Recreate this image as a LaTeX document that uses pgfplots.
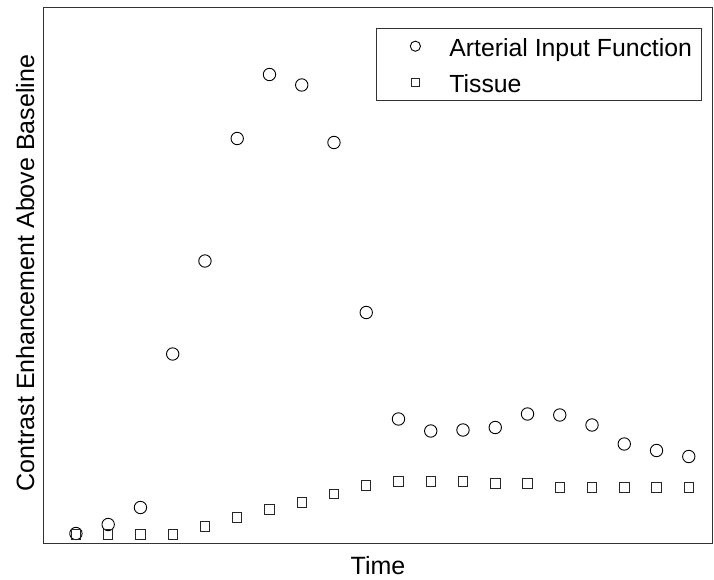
\documentclass[border=0pt]{standalone}
\usepackage{pgfplots}
\pgfplotsset{compat=1.18}
\usepackage{fontspec}
\setmainfont{Liberation Sans}
\begin{document}
\begin{tikzpicture}[x=1pt,y=1pt]
\begin{axis}[
  name=ax,
  at={(0,0)}, anchor=south west,
  scale only axis,
  width=668pt, height=535.5pt,
  xmin=-0.99, xmax=19.72,
  ymin=0, ymax=535.5,
  xtick=\empty, ytick=\empty,
  axis line style={line width=1pt, color=black!80},
  xlabel={Time},
  ylabel={Contrast Enhancement Above Baseline},
  label style={font=\fontsize{25}{30}\selectfont},
  xlabel style={at={(0.5,0)}, anchor=north, yshift=-13pt, inner sep=0pt},
  ylabel style={at={(0,0.505)}, anchor=south, yshift=6pt},
  legend style={at={(0.497,0.963)}, anchor=north west,
    font=\fontsize{24.8}{29}\selectfont,
    draw=black!80, line width=0.8pt,
    inner xsep=6pt, inner ysep=0pt,
    row sep=0pt,
    nodes={text height=22pt, text depth=1pt, inner ysep=6.5pt, inner xsep=3pt}},
  legend cell align=left,
  legend image code/.code={\path[draw=none,fill=none] (0,0) rectangle (64pt,0); \draw[#1, every mark/.append style={scale=0.82}] plot coordinates {(33pt,0pt)};},
]
\addplot[only marks, mark=o, mark size=6.2pt, mark options={line width=0.9pt, black}] coordinates {
(0,10) (1,19) (2,36) (3,189.5) (4,282.5) (5,405) (6,469) (7,458.5) (8,401) (9,231)
(10,124.5) (11,112.5) (12,113.5) (13,116) (14,129.5) (15,128.5) (16,118.5) (17,99.5) (18,93) (19,87)
};
\addlegendentry{Arterial Input Function}
\addplot[only marks, mark=square, mark size=4.7pt, mark options={line width=0.9pt, black!85}] coordinates {
(0,9) (1,9) (2,9) (3,9) (4,17) (5,26) (6,34) (7,41) (8,49.5) (9,58)
(10,62) (11,62) (12,62) (13,60) (14,60) (15,56) (16,56) (17,56) (18,56) (19,56)
};
\addlegendentry{Tissue}
\end{axis}
\pgfresetboundingbox
\path (-44,-35.5) rectangle (670,543.5);
\end{tikzpicture}
\end{document}
